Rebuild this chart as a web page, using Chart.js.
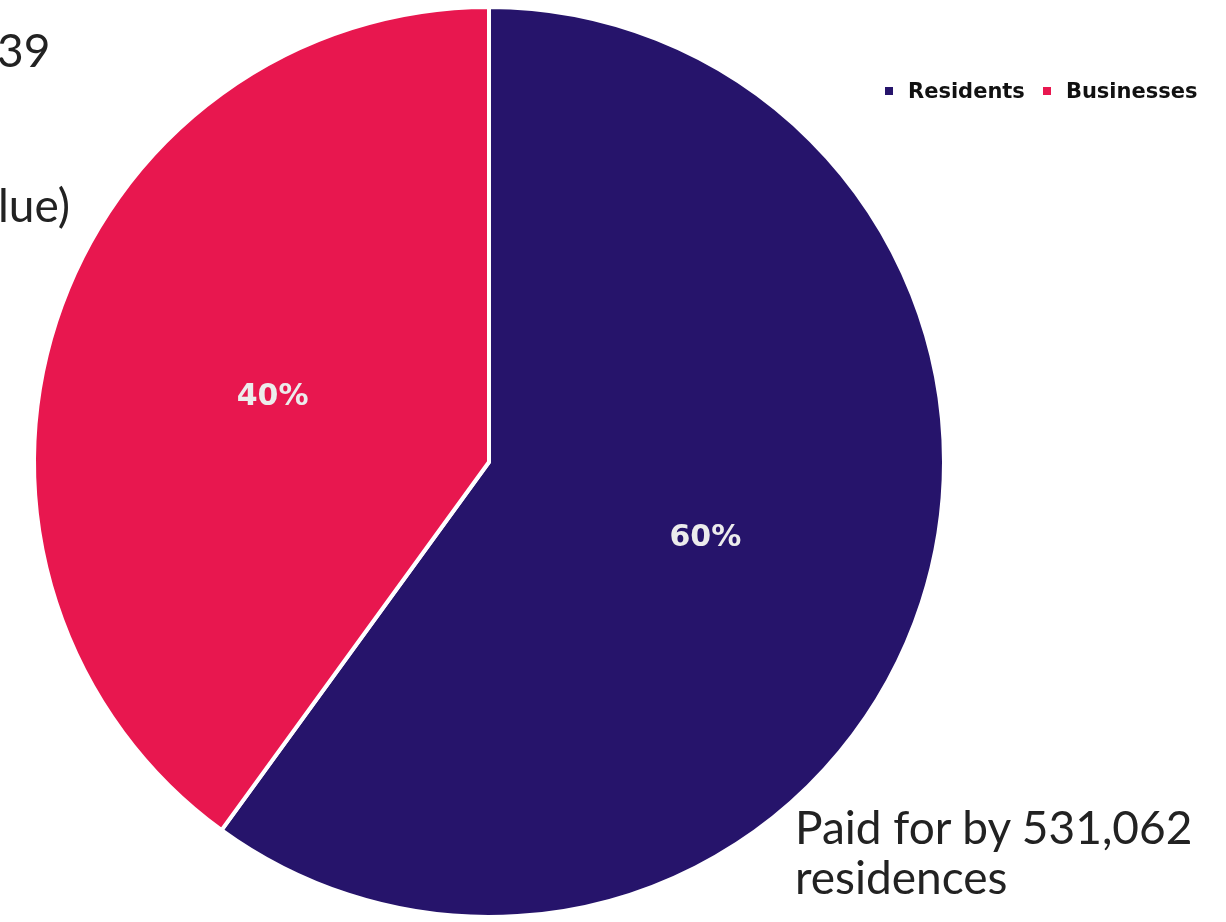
<!DOCTYPE html>
<html>
<head>
<meta charset="utf-8">
<script src="https://cdn.jsdelivr.net/npm/chart.js@4/dist/chart.umd.min.js"></script>
<style>
  html, body { margin: 0; padding: 0; background: #fff; overflow: hidden; }
  #wrap { position: relative; width: 1226px; height: 922px; }
  #chart { position: absolute; left: 0; top: 0; }
  .note { position: absolute; font-family: "Lato", "Open Sans", sans-serif; color: #222; font-size: 46px; line-height: 50px; white-space: nowrap; }
  #legend { position: absolute; left: 885px; top: 78px; font-family: "DejaVu Sans", sans-serif; font-weight: bold; font-size: 21px; line-height: 26px; color: #111; white-space: nowrap; }
  #legend span.box { display: inline-block; width: 8px; height: 8px; margin-right: 15px; vertical-align: 3px; }
  #legend span.item { margin-right: 18px; }
</style>
</head>
<body>
<div id="wrap">
  <canvas id="chart" width="1226" height="922"></canvas>
  <div class="note" style="left:-3px; top:25px;">39</div>
  <div class="note" style="left:-17px; top:128px;">t</div>
  <div class="note" style="left:-2px; top:180px;">lue)</div>
  <div class="note" style="left:795px; top:802px;">Paid for by 531,062<br>residences</div>
  <div id="legend"></div>
</div>
<script>
"use strict";

var labels = ['Residents', 'Businesses'];
var shares = [60, 40];
var colors = ['#26146b', '#e8174f'];

// legend, built from the same arrays
var legend = document.getElementById('legend');
labels.forEach(function(label, i) {
    var item = document.createElement('span');
    item.className = 'item';
    item.innerHTML = '<span class="box" style="background:' + colors[i] + '"></span>' + label;
    legend.appendChild(item);
});

// percentage labels in the middle of each slice
var sliceLabels = {
    id: 'sliceLabels',
    afterDatasetsDraw: function(chart) {
        var ctx = chart.ctx;
        var meta = chart.getDatasetMeta(0);
        var total = shares.reduce(function(a, b) { return a + b; }, 0);
        ctx.save();
        ctx.font = 'bold 30px "DejaVu Sans", sans-serif';
        ctx.fillStyle = '#ececec';
        ctx.textAlign = 'center';
        ctx.textBaseline = 'middle';
        meta.data.forEach(function(arc, i) {
            var p = arc.tooltipPosition();
            ctx.fillText(Math.round(shares[i] / total * 100) + '%', p.x, p.y + 6);
        });
        ctx.restore();
    }
};

new Chart(document.getElementById('chart'), {
    type: 'pie',
    data: {
        labels: labels,
        datasets: [{
            data: shares,
            backgroundColor: colors,
            borderColor: '#ffffff',
            borderWidth: 4
        }]
    },
    options: {
        responsive: false,
        animation: false,
        layout: {
            padding: { left: 30, right: 278, top: 5, bottom: 3 }
        },
        plugins: {
            legend: { display: false },
            tooltip: { enabled: false }
        }
    },
    plugins: [sliceLabels]
});
</script>
</body>
</html>
